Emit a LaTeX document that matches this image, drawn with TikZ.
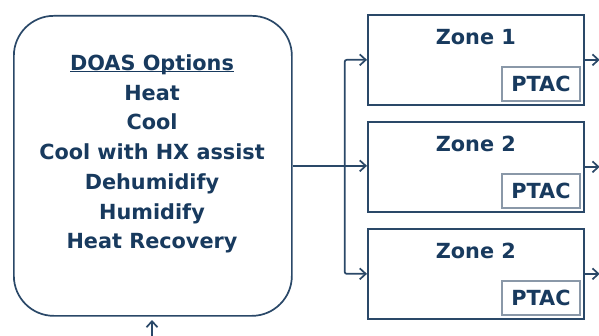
\documentclass[tikz,border=0pt]{standalone}
\usepackage{fontspec}
\setmainfont{DejaVu Sans}
\usetikzlibrary{arrows.meta,calc}
\definecolor{navy}{HTML}{183A5E}
\definecolor{linec}{HTML}{2A4868}
\definecolor{ptacline}{HTML}{8A98A8}
\begin{document}
\begin{tikzpicture}[x=1pt,y=-1pt,
  every node/.style={text=navy, font=\bfseries\fontsize{20.8}{29.7}\selectfont},
  zonebox/.style={draw=linec, line width=1.7pt, minimum width=216pt, minimum height=90pt, inner sep=0pt, anchor=north west},
  ptacbox/.style={draw=ptacline, line width=1.4pt, minimum width=78pt, minimum height=34pt, inner sep=0pt, anchor=south east},
  arr/.style={draw=linec, line width=1.7pt, rounded corners=2pt, -{Straight Barb[length=6pt,width=11pt,line width=1.7pt]}},
  conn/.style={draw=linec, line width=1.7pt}]
\useasboundingbox (0,0) rectangle (599,336);
\fill[white] (0,0) rectangle (599,336);

\node[draw=linec, line width=1.7pt, rounded corners=40pt, minimum width=278pt, minimum height=300pt, inner sep=0pt, anchor=north west] (doas) at (13,15) {};
\node[align=center, inner sep=0pt] (doastext) at (152,154) {DOAS Options\\Heat\\Cool\\Cool with HX assist\\Dehumidify\\Humidify\\Heat Recovery};
\draw[navy, line width=1.6pt] ($(doastext.north)+(-82,17)$) -- ($(doastext.north)+(82,17)$);

\node[zonebox] (z1) at (367,14) {};
\node[zonebox] (z2) at (367,121) {};
\node[zonebox] (z3) at (367,228) {};

\node (l1) at ($(z1.north)+(0,23)$) {Zone 1};
\node (l2) at ($(z2.north)+(0,23)$) {Zone 2};
\node (l3) at ($(z3.north)+(0,23)$) {Zone 2};

\node[ptacbox] (p1) at ($(z1.south east)+(-4,-4)$) {PTAC};
\node[ptacbox] (p2) at ($(z2.south east)+(-4,-4)$) {PTAC};
\node[ptacbox] (p3) at ($(z3.south east)+(-4,-4)$) {PTAC};

\coordinate (br) at ($(doas.east)+(52,0)$);
\draw[conn] (doas.east) -- (br);
\draw[arr] (br) |- (z1.west);
\draw[arr] (br) -- (br -| z2.west);
\draw[arr] (br) |- (z3.west);

\coordinate (o1) at ($(z1.east)+(15,0)$);
\coordinate (o2) at ($(z2.east)+(15,0)$);
\coordinate (o3) at ($(z3.east)+(15,0)$);
\draw[arr] (z1.east) -- (o1);
\draw[arr] (z2.east) -- (o2);
\draw[arr] (z3.east) -- (o3);

\coordinate (bin) at (152,336);
\coordinate (bt) at (152,320);
\draw[arr] (bin) -- (bt);
\end{tikzpicture}
\end{document}
